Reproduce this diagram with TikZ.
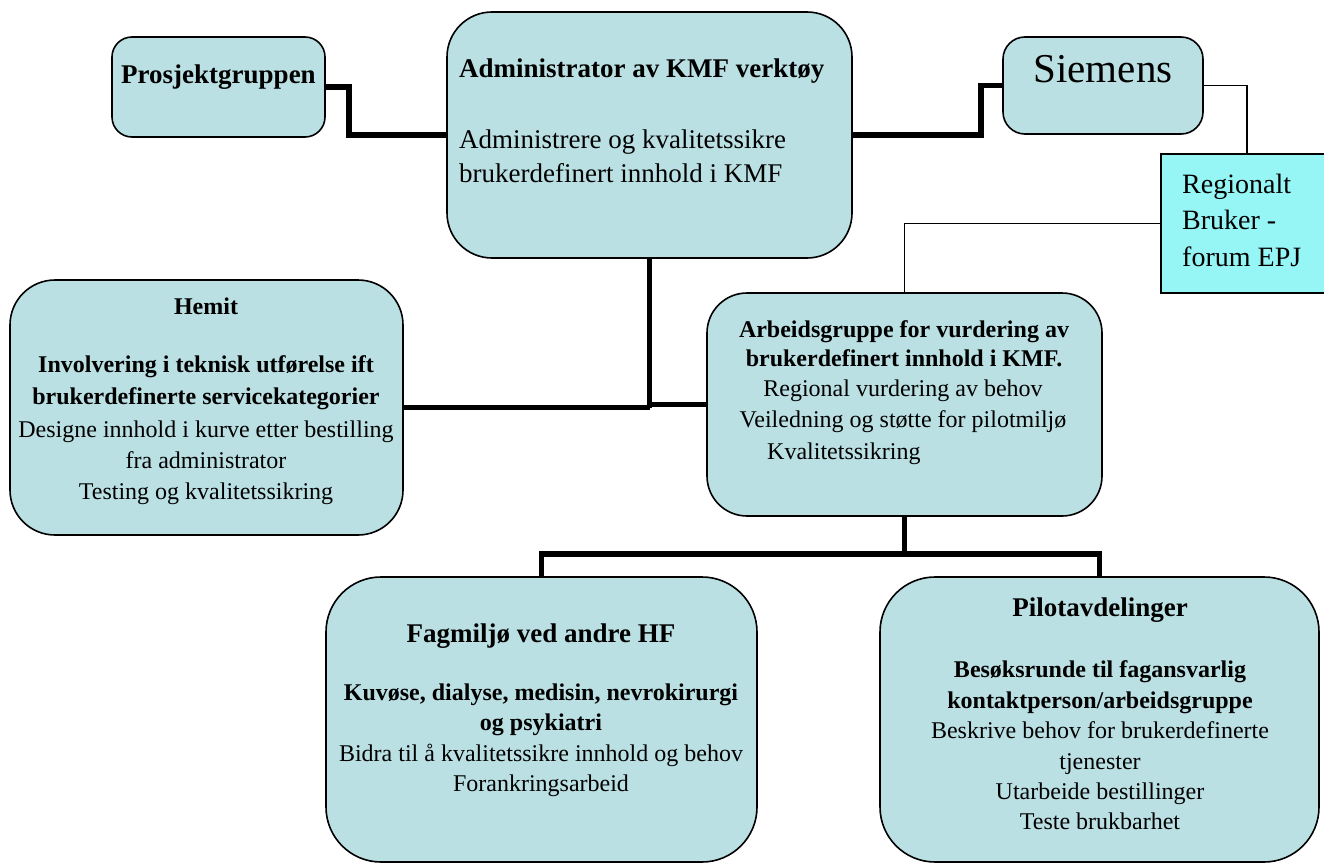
\documentclass[tikz,border=0pt]{standalone}
\usepackage{fontspec}
\setmainfont{Liberation Serif}
\usetikzlibrary{positioning}

\definecolor{boxblue}{RGB}{186,224,227}
\definecolor{forumcyan}{RGB}{150,245,245}

\newcommand{\fnorm}{\fontsize{24}{30}\selectfont}
\newcommand{\fhead}{\fontsize{27}{34}\selectfont}

\tikzset{
  orgbox/.style={draw, line width=1.6pt, fill=boxblue, rounded corners=#1, inner sep=0pt},
  forumbox/.style={draw, line width=1.6pt, fill=forumcyan, inner sep=0pt},
  txt/.style={inner sep=0pt, anchor=base, font=\fnorm},
  txtl/.style={inner sep=0pt, anchor=base west, font=\fnorm},
  link/.style={line width=5.5pt},
  thinlink/.style={line width=1.3pt}
}

\begin{document}
\begin{tikzpicture}[x=1pt, y=-1pt]
	\useasboundingbox (0,0) rectangle (1324,864);
	% boxes
	\node[orgbox=20pt, minimum width=213pt, minimum height=100pt] (prosj) at (218.5,87) {};
	\node[orgbox=45pt, minimum width=405pt, minimum height=246pt] (admin) at (649.5,135) {};
	\node[orgbox=22pt, minimum width=200pt, minimum height=97pt] (siemens) at (1103,85.5) {};
	\node[forumbox, minimum width=182pt, minimum height=139pt] (regional) at (1252,223.5) {};
	\node[orgbox=45pt, minimum width=393pt, minimum height=255pt] (hemit) at (206.5,407.5) {};
	\node[orgbox=40pt, minimum width=395pt, minimum height=223pt] (arbeid) at (904.5,404.5) {};
	\node[orgbox=55pt, minimum width=431pt, minimum height=285pt] (fag) at (541.5,719.5) {};
	\node[orgbox=55pt, minimum width=439pt, minimum height=285pt] (pilot) at (1099.5,719.5) {};
	% connectors
	\draw[link] (prosj.east) -- ++(23,0) |- (admin.west);
	\draw[link] (admin.east) -- ++(128,0) |- (siemens.west);
	\draw[thinlink] (siemens.east) -| ([xshift=-5pt]regional.north);
	\draw[thinlink] (regional.west) -| (arbeid.north);
	\draw[link] (admin.south) -- (admin.south |- hemit.east);
	\draw[link] (hemit.east) -- (hemit.east -| admin.south);
	\draw[link] (admin.south |- arbeid.west) -- (arbeid.west);
	\draw[link] (arbeid.south) -- ++(0,37) coordinate (split);
	\draw[link] (fag.north) |- (split) -| (pilot.north);
	% texts
	\node[txt, font=\fhead\bfseries] (prosj-t) at (218.5,84) {Prosjektgruppen};
	\node[txtl, font=\fhead\bfseries] (admin-t1) at (459,78) {Administrator av KMF verktøy};
	\node[txtl, font=\fhead] (admin-t2) at (459,148) {Administrere og kvalitetssikre};
	\node[txtl, font=\fhead] (admin-t3) at (459,182) {brukerdefinert innhold i KMF};
	\node[txt, font=\fontsize{41}{48}\selectfont] (siemens-t) at (1103,83) {Siemens};
	\node[txtl, font=\fontsize{28}{36}\selectfont] (regional-t1) at (1182,193) {Regionalt};
	\node[txtl, font=\fontsize{28}{36}\selectfont] (regional-t2) at (1182,229) {Bruker -};
	\node[txtl, font=\fontsize{28}{36}\selectfont] (regional-t3) at (1182,266) {forum EPJ};
	\node[txt, font=\fnorm\bfseries] (hemit-t1) at (206,314) {Hemit};
	\node[txt, font=\fnorm\bfseries] (hemit-t2) at (206,372) {Involvering i teknisk utførelse ift};
	\node[txt, font=\fnorm\bfseries] (hemit-t3) at (206,404) {brukerdefinerte servicekategorier};
	\node[txt] (hemit-t4) at (206,437) {Designe innhold i kurve etter bestilling};
	\node[txt] (hemit-t5) at (206,468) {fra administrator};
	\node[txt] (hemit-t6) at (206,499) {Testing og kvalitetssikring};
	\node[txt, font=\fnorm\bfseries] (arbeid-t1) at (904,337) {Arbeidsgruppe for vurdering av};
	\node[txt, font=\fnorm\bfseries] (arbeid-t2) at (904,366) {brukerdefinert innhold i KMF.};
	\node[txt] (arbeid-t3) at (903,396) {Regional vurdering av behov};
	\node[txt] (arbeid-t4) at (903,427) {Veiledning og støtte for pilotmiljø};
	\node[txtl] (arbeid-t5) at (767,459) {Kvalitetssikring};
	\node[txt, font=\fhead\bfseries] (fag-t1) at (541,642) {Fagmiljø ved andre HF};
	\node[txt, font=\fnorm\bfseries] (fag-t2) at (541,700) {Kuvøse, dialyse, medisin, nevrokirurgi};
	\node[txt, font=\fnorm\bfseries] (fag-t3) at (541,730) {og psykiatri};
	\node[txt] (fag-t4) at (541,761) {Bidra til å kvalitetssikre innhold og behov};
	\node[txt] (fag-t5) at (541,791) {Forankringsarbeid};
	\node[txt, font=\fhead\bfseries] (pilot-t1) at (1100,616) {Pilotavdelinger};
	\node[txt, font=\fnorm\bfseries] (pilot-t2) at (1100,677) {Besøksrunde til fagansvarlig};
	\node[txt, font=\fnorm\bfseries] (pilot-t3) at (1100,708) {kontaktperson/arbeidsgruppe};
	\node[txt] (pilot-t4) at (1100,738) {Beskrive behov for brukerdefinerte};
	\node[txt] (pilot-t5) at (1100,769) {tjenester};
	\node[txt] (pilot-t6) at (1100,799) {Utarbeide bestillinger};
	\node[txt] (pilot-t7) at (1100,829) {Teste brukbarhet};
\end{tikzpicture}
\end{document}
